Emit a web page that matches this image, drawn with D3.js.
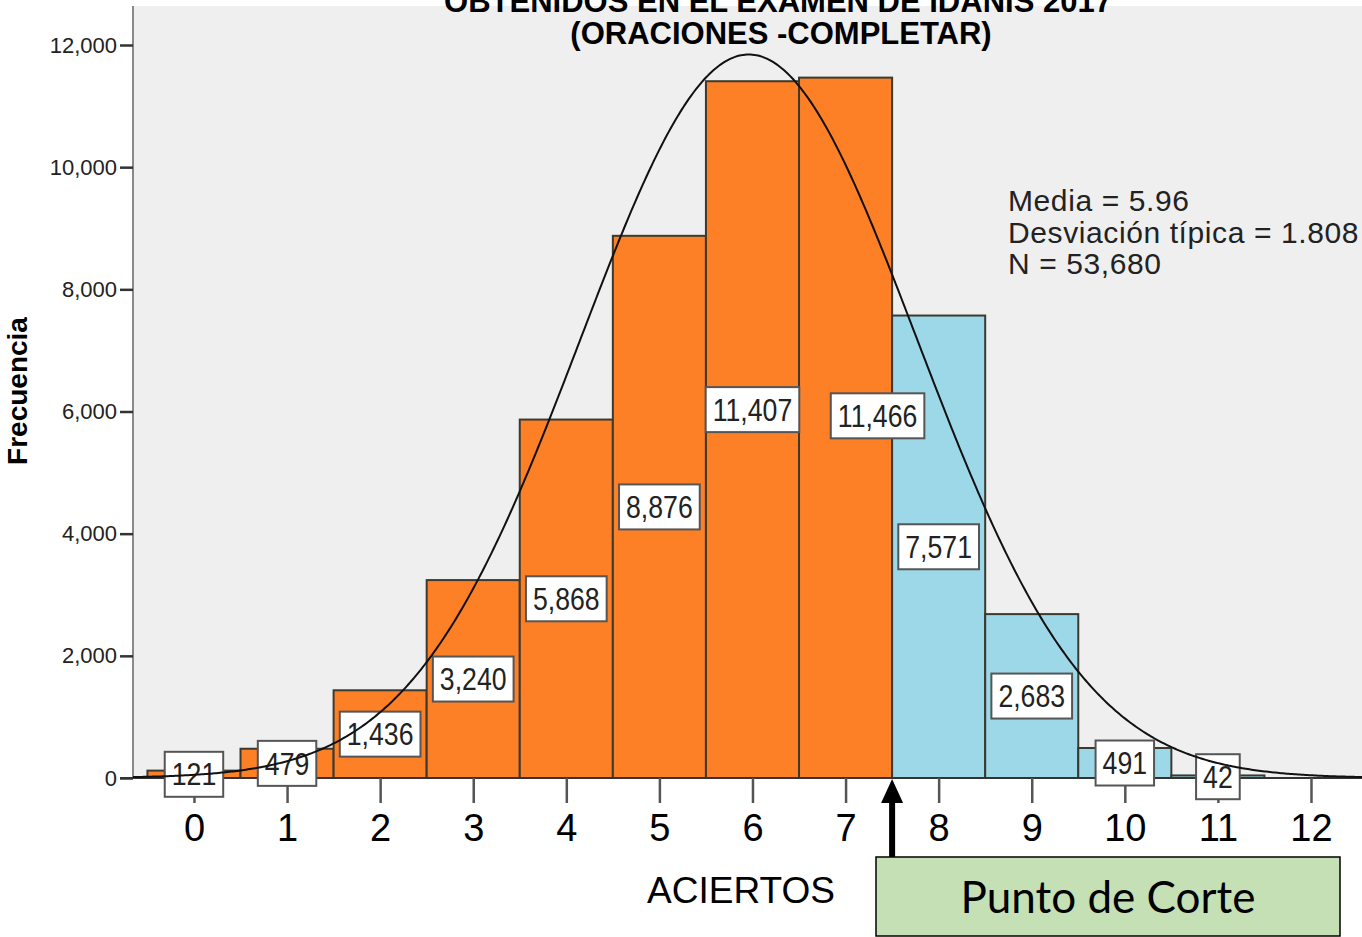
<!DOCTYPE html>
<html>
<head>
<meta charset="utf-8">
<script src="https://cdn.jsdelivr.net/npm/d3@7"></script>
<style>
  body { margin: 0; background: #fff; }
  svg { display: block; font-family: "Liberation Sans", Arial, sans-serif; }
</style>
</head>
<body>
<script>
// data
const aciertos = [0, 1, 2, 3, 4, 5, 6, 7, 8, 9, 10, 11];
const frecuencia = [121, 479, 1436, 3240, 5868, 8876, 11407, 11466, 7571, 2683, 491, 42];
const xTicks = [0, 1, 2, 3, 4, 5, 6, 7, 8, 9, 10, 11, 12];
const yTicks = [0, 2000, 4000, 6000, 8000, 10000, 12000];
const statLines = ["Media = 5.96", "Desviación típica = 1.808", "N = 53,680"];
const media = 5.96, desv = 1.808, nTotal = 53680;
const corte = 7.5; // bars above this are "aprobados"

const W = 1362, H = 937;
const plot = { left: 133, top: 6, right: 1362, bottom: 778 };

const svg = d3.select("body").append("svg")
  .attr("width", W)
  .attr("height", H);

const x = d3.scaleLinear().domain([-0.655, 12.548]).range([plot.left, plot.right]);
const y = d3.scaleLinear().domain([0, 12000]).range([plot.bottom, 45]);

// plot background
svg.append("rect")
  .attr("x", plot.left).attr("y", plot.top)
  .attr("width", plot.right - plot.left).attr("height", plot.bottom - plot.top)
  .attr("fill", "#efefef");

svg.append("clipPath").attr("id", "clip")
  .append("rect")
  .attr("x", plot.left).attr("y", plot.top)
  .attr("width", plot.right - plot.left).attr("height", plot.bottom - plot.top + 1);

// title (first line is cut off at the top, as in the original)
svg.append("text")
  .attr("x", 778).attr("y", 12)
  .attr("text-anchor", "middle")
  .style("font-weight", "bold").style("font-size", "31px")
  .text("OBTENIDOS EN EL EXAMEN DE IDANIS 2017");
svg.append("text")
  .attr("x", 781).attr("y", 44)
  .attr("text-anchor", "middle")
  .style("font-weight", "bold").style("font-size", "31px")
  .text("(ORACIONES -COMPLETAR)");

// bars
svg.append("g")
  .selectAll("rect")
  .data(aciertos)
  .join("rect")
  .attr("x", (d) => x(d - 0.5))
  .attr("y", (d, i) => y(frecuencia[i]))
  .attr("width", (d) => x(d + 0.5) - x(d - 0.5))
  .attr("height", (d, i) => y(0) - y(frecuencia[i]))
  .attr("fill", (d) => d < corte ? "#fd7f26" : "#9dd8e9")
  .attr("stroke", "#3b3a30")
  .attr("stroke-width", 2);

// y axis
svg.append("line")
  .attr("x1", plot.left).attr("x2", plot.left)
  .attr("y1", plot.top).attr("y2", plot.bottom)
  .attr("stroke", "#8a8a8a").attr("stroke-width", 2);

const yAxis = svg.append("g")
  .attr("transform", `translate(${plot.left},0)`)
  .call(d3.axisLeft(y).tickValues(yTicks).tickFormat(d3.format(",")).tickSize(13).tickPadding(3));
yAxis.select(".domain").remove();
yAxis.selectAll(".tick line").attr("stroke", "#333").attr("stroke-width", 2.5);
yAxis.selectAll(".tick text")
  .attr("fill", "#222")
  .style("font-size", "22px")
  .style("font-family", "Liberation Sans, Arial, sans-serif");

// x axis
svg.append("line")
  .attr("x1", 120).attr("x2", plot.right)
  .attr("y1", plot.bottom).attr("y2", plot.bottom)
  .attr("stroke", "#333").attr("stroke-width", 2);

const xAxis = svg.append("g")
  .attr("transform", `translate(0,${plot.bottom})`)
  .call(d3.axisBottom(x).tickValues(xTicks).tickFormat(d3.format("d")).tickSize(25).tickPadding(11));
xAxis.select(".domain").remove();
xAxis.selectAll(".tick line").attr("stroke", "#555").attr("stroke-width", 2.5);
xAxis.selectAll(".tick text")
  .attr("fill", "#000")
  .style("font-size", "38px")
  .style("font-family", "Liberation Sans, Arial, sans-serif");

// value labels, placed at half bar height (two nudged like in the original)
const nudge = { 6: [0, -20], 7: [32, -12] };
const fmt = d3.format(",");
const labels = svg.append("g")
  .selectAll("g")
  .data(aciertos)
  .join("g")
  .attr("transform", (d, i) => {
    const n = nudge[d] || [0, 0];
    return `translate(${x(d) + n[0]},${y(frecuencia[i] / 2) + n[1]})`;
  });

labels.append("text")
  .attr("text-anchor", "middle")
  .attr("dy", "0.36em")
  .attr("transform", "scale(0.86,1)")
  .style("font-size", "31px")
  .attr("fill", "#222")
  .text((d, i) => fmt(frecuencia[i]));

labels.each(function () {
  const g = d3.select(this);
  const bb = g.select("text").node().getBBox();
  const w = bb.width * 0.86 + 14;
  g.insert("rect", "text")
    .attr("x", -w / 2).attr("y", -22.5)
    .attr("width", w).attr("height", 45)
    .attr("fill", "#fff")
    .attr("stroke", "#555")
    .attr("stroke-width", 2);
});

// normal curve
const normal = (v) => nTotal / (desv * Math.sqrt(2 * Math.PI)) * Math.exp(-0.5 * ((v - media) / desv) ** 2);
const curveX = d3.range(-0.7, 12.6, 0.02);
svg.append("path")
  .attr("clip-path", "url(#clip)")
  .datum(curveX)
  .attr("fill", "none")
  .attr("stroke", "#111")
  .attr("stroke-width", 2)
  .attr("d", d3.line().x((v) => x(v)).y((v) => y(normal(v))));

// stats
svg.append("g")
  .selectAll("text")
  .data(statLines)
  .join("text")
  .attr("x", 1008)
  .attr("y", (d, i) => 211 + i * 31.5)
  .style("font-size", "30px")
  .style("letter-spacing", "0.6px")
  .attr("fill", "#222")
  .text((d) => d);

// axis titles
svg.append("text")
  .attr("transform", "translate(27,391) rotate(-90)")
  .attr("text-anchor", "middle")
  .style("font-weight", "bold")
  .style("font-size", "28px")
  .text("Frecuencia");

svg.append("text")
  .attr("x", 741).attr("y", 903)
  .attr("text-anchor", "middle")
  .style("font-size", "37px")
  .text("ACIERTOS");

// cut point arrow and box
svg.append("line")
  .attr("x1", x(corte)).attr("x2", x(corte))
  .attr("y1", 858).attr("y2", 798)
  .attr("stroke", "#000").attr("stroke-width", 6);
svg.append("path")
  .attr("d", `M${x(corte) - 11},803 L${x(corte) + 11},803 L${x(corte)},779 Z`)
  .attr("fill", "#000");

svg.append("rect")
  .attr("x", 876).attr("y", 857)
  .attr("width", 464).attr("height", 79)
  .attr("fill", "#c5e0b4")
  .attr("stroke", "#000")
  .attr("stroke-width", 1.5);
svg.append("text")
  .attr("x", 1108).attr("y", 913)
  .attr("text-anchor", "middle")
  .style("font-family", "Lato, 'Liberation Sans', sans-serif")
  .style("font-size", "44px")
  .text("Punto de Corte");
</script>
</body>
</html>
